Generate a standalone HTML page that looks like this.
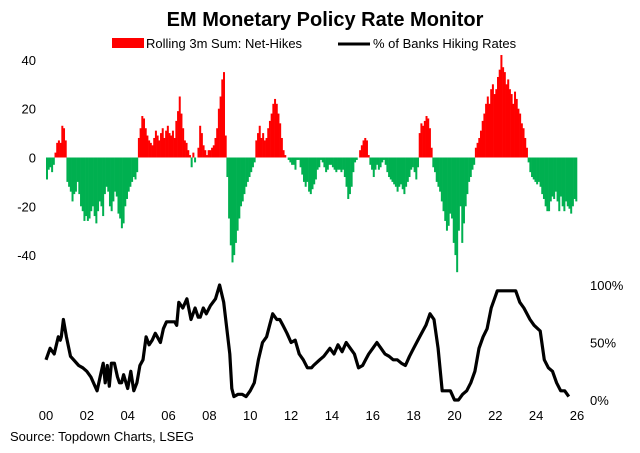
<!DOCTYPE html>
<html><head><meta charset="utf-8"><style>
body{margin:0;background:#fff;width:640px;height:448px;overflow:hidden;font-family:"Liberation Sans",Arial,sans-serif}
</style></head><body>
<svg id="c" width="640" height="448" xmlns="http://www.w3.org/2000/svg" font-family="Liberation Sans, Arial, sans-serif">
<text x="325" y="26" text-anchor="middle" font-size="20" font-weight="bold" fill="#000">EM Monetary Policy Rate Monitor</text>
<g>
<rect x="112" y="38" width="32" height="10" fill="#ff0000"/>
<text x="146" y="48" font-size="13" fill="#000">Rolling 3m Sum: Net-Hikes</text>
<line x1="338" y1="44" x2="370" y2="44" stroke="#000" stroke-width="3"/>
<text x="373" y="48" font-size="13" fill="#000">% of Banks Hiking Rates</text>
</g>
<g id="bars"></g>
<g id="yl"></g>
<g id="ry"></g>
<g id="xl"></g>
<path id="ln" fill="none" stroke="#000" stroke-width="3.2" stroke-linejoin="round"/>
<text x="10" y="441" font-size="13" fill="#000">Source: Topdown Charts, LSEG</text>
</svg>
<script>
const netHikes=[
-9,-5,-4,-6,-3,2,6,7,6,13,12,7,
-10,-12,-14,-18,-15,-14,-10,-15,-20,-22,-26,-24,
-26,-25,-22,-20,-24,-27,-22,-18,-20,-24,-15,-12,
-14,-20,-22,-18,-14,-16,-23,-25,-29,-27,-20,-17,
-14,-12,-10,-8,-9,-6,8,12,17,16,12,9,
7,6,5,8,11,9,7,10,12,8,11,13,
10,9,11,8,15,19,25,18,12,7,6,3,
1,-4,2,-2,0,4,13,10,5,3,1,3,
3,4,5,8,12,20,25,32,35,9,-8,-25,
-36,-43,-40,-35,-30,-25,-20,-18,-15,-12,-10,-8,
-6,-4,-2,7,10,13,8,10,7,8,12,15,
18,22,24,22,18,14,8,3,1,0,-1,-2,
-3,-3,-5,-1,-1,-4,-7,-10,-12,-10,-14,-15,
-13,-11,-9,-5,-4,-1,-2,-4,-6,-5,-3,-3,
-4,-5,-6,-5,-5,-6,-5,-8,-12,-17,-15,-12,
-6,-2,-1,0,3,5,7,8,7,1,-3,-5,
-8,-5,-3,-5,-4,-2,-1,-3,-6,-8,-9,-10,
-11,-12,-14,-12,-11,-13,-15,-12,-10,-8,-5,-4,
-6,-9,-4,10,14,13,15,17,16,12,4,-4,
-6,-10,-12,-14,-18,-22,-26,-30,-28,-23,-25,-35,
-40,-47,-30,-20,-35,-27,-20,-15,-10,-8,-5,-3,
4,6,8,11,15,18,22,25,22,28,30,26,
28,33,36,42,37,35,30,32,28,26,22,27,
24,20,18,14,12,8,4,-2,-6,-8,-9,-10,
-11,-10,-12,-15,-17,-20,-22,-22,-18,-16,-17,-14,
-18,-22,-16,-20,-22,-18,-20,-21,-23,-20,-17,-18];
const startYear=2000;
const lineYears=[2000,2000.2,2000.4,2000.6,2000.7,2000.75,2000.85,2001,2001.2,2001.6,2001.8,2002,2002.2,2002.4,2002.5,2002.65,2002.8,2002.9,2003,2003.1,2003.2,2003.35,2003.5,2003.6,2003.7,2003.8,2004,2004.15,2004.3,2004.45,2004.6,2004.75,2004.9,2005.05,2005.2,2005.35,2005.45,2005.6,2005.75,2005.9,2006.1,2006.3,2006.4,2006.5,2006.7,2006.9,2007.1,2007.3,2007.45,2007.55,2007.7,2007.85,2008.05,2008.3,2008.5,2008.7,2009,2009.1,2009.2,2009.4,2009.6,2009.8,2010,2010.2,2010.4,2010.6,2010.8,2010.95,2011.1,2011.3,2011.45,2011.6,2011.8,2012,2012.2,2012.4,2012.6,2012.8,2013,2013.1,2013.4,2013.6,2013.9,2014.1,2014.3,2014.5,2014.7,2014.9,2015.1,2015.3,2015.5,2015.65,2015.8,2016,2016.2,2016.6,2016.8,2017,2017.2,2017.4,2017.6,2017.8,2018,2018.3,2018.6,2018.8,2019,2019.2,2019.4,2019.6,2019.8,2020,2020.2,2020.4,2020.6,2020.8,2021,2021.2,2021.4,2021.6,2021.8,2022,2022.1,2022.3,2022.5,2022.8,2023,2023.2,2023.4,2023.7,2023.9,2024.2,2024.4,2024.6,2024.8,2025,2025.2,2025.4,2025.6,2025.8,2025.9];
const linePcts=[35,45,40,55,52,55,70,55,38,30,28,25,20,12,8,20,32,15,30,12,32,32,20,15,15,22,10,25,8,15,30,35,55,48,52,58,55,50,62,68,68,68,65,85,80,88,70,80,72,72,80,75,82,88,100,85,40,10,3,5,5,3,8,15,35,50,55,65,75,70,70,65,58,50,52,40,35,28,28,30,35,38,45,40,48,42,50,45,40,28,30,35,40,45,50,40,38,35,35,32,30,38,45,55,65,75,70,45,8,8,8,0,0,5,8,15,25,45,55,62,80,90,95,95,95,95,95,85,80,70,65,60,35,28,25,15,8,8,3];
const topTicks=[40,20,0,-20,-40];
const pctTicks=[100,50,0];
const yearTicks=["00","02","04","06","08","10","12","14","16","18","20","22","24","26"];
const NS="http://www.w3.org/2000/svg";
const xYear=y=>46+(y-2000)*(531/26);
const yTop=v=>157.5-v*2.44;
const yPct=p=>400-p*1.15;
const bw=531/26/12;
const bars=document.getElementById('bars');
netHikes.forEach((v,i)=>{
 const r=document.createElementNS(NS,'rect');
 const x=xYear(startYear+i/12);
 r.setAttribute('x',x.toFixed(2));r.setAttribute('width',(bw+0.3).toFixed(2));
 r.setAttribute('y',Math.min(yTop(v),yTop(0)).toFixed(2));
 r.setAttribute('height',Math.abs(yTop(v)-yTop(0)).toFixed(2));
 r.setAttribute('fill',v>=0?'#ff0000':'#00b050');
 
 
 bars.appendChild(r);
});
function txt(g,x,y,s,anchor){const t=document.createElementNS(NS,'text');t.setAttribute('x',x);t.setAttribute('y',y);t.setAttribute('font-size','13');t.setAttribute('text-anchor',anchor);t.textContent=s;g.appendChild(t);return t;}
const yl=document.getElementById('yl');
topTicks.forEach(v=>{const t=txt(yl,36,yTop(v)+5,String(v),'end');

});
const ry=document.getElementById('ry');
pctTicks.forEach(p=>{const t=txt(ry,590,yPct(p)+5,p+'%','start');

});
const xl=document.getElementById('xl');
yearTicks.forEach((s,i)=>{const t=txt(xl,xYear(2000+i*2),420,s,'middle');

});
let d='';
lineYears.forEach((y,i)=>{d+=(i?'L':'M')+xYear(y).toFixed(1)+','+yPct(linePcts[i]).toFixed(1);});
document.getElementById('ln').setAttribute('d',d);
</script>
</body></html>
